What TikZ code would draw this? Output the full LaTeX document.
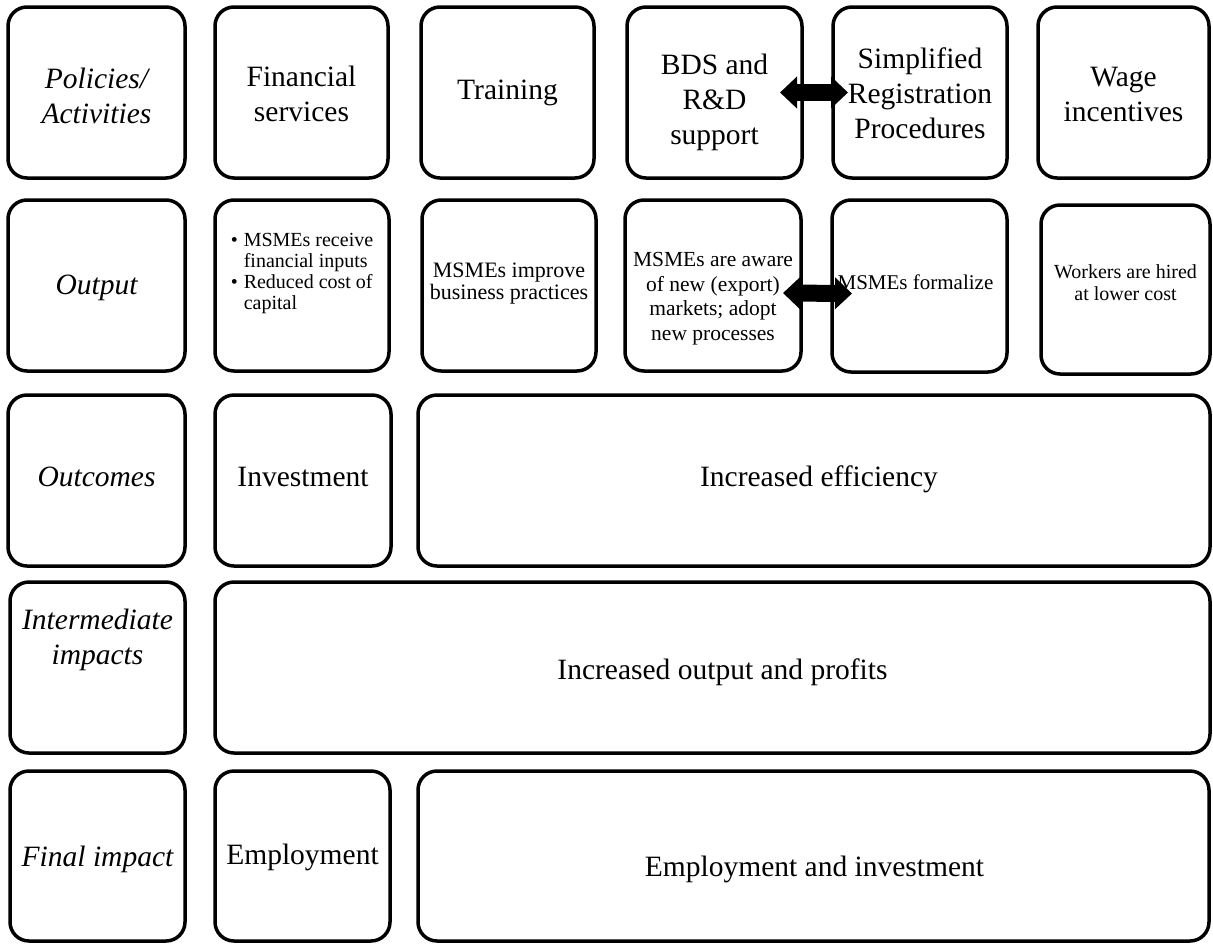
\documentclass[tikz,border=0pt]{standalone}
\usepackage{fontspec}
\setmainfont{Liberation Serif}
\usetikzlibrary{arrows.meta,calc}
\newcommand{\boxat}[5]{\node[box,minimum width={#4pt-#2pt},minimum height={#5pt-#3pt}] (#1) at ({(#2+#4)/2},{(#3+#5)/2}) {};}
\begin{document}
\begin{tikzpicture}[x=1pt,y=-1pt,
  box/.style={draw,line width=3.5pt,rounded corners=19pt,inner sep=0pt,outer sep=0pt},
  big/.style={font=\fontsize{29.5}{35}\selectfont,align=center,inner sep=0pt},
  lab/.style={font=\fontsize{29.5}{35}\selectfont\itshape,align=center,inner sep=0pt},
  small/.style={font=\fontsize{21}{22.5}\selectfont,align=center,inner sep=0pt},
  fat/.style={line width=17pt,{Triangle[width=31pt,length=17pt]}-{Triangle[width=31pt,length=17pt]}}]
\fill[white] (0,0) rectangle (1213,943);
\useasboundingbox (0,0) rectangle (1213,943);
% row 1
\boxat{l1}{8}{7}{185}{178}
\boxat{fin}{215}{7}{388}{178}
\boxat{tr}{421}{7}{594}{178}
\boxat{bds}{627}{7}{802}{178}
\boxat{sim}{833}{7}{1007}{178}
\boxat{wage}{1038}{7}{1209}{178}
% row 2
\boxat{l2}{8}{200}{185}{371}
\boxat{o1}{215}{200}{389}{371}
\boxat{o2}{422}{200}{596}{371}
\boxat{o3}{625}{200}{801}{371}
\boxat{o4}{832}{200}{1007}{372}
\boxat{o5}{1041}{205}{1210}{374}
% row 3
\boxat{l3}{8}{395}{185}{566}
\boxat{inv}{215}{395}{391}{566}
\boxat{eff}{418}{395}{1210}{566}
% row 4
\boxat{l4}{10}{582}{185}{753}
\boxat{out}{215}{582}{1210}{753}
% row 5
\boxat{l5}{10}{771}{185}{941}
\boxat{emp}{215}{771}{390}{941}
\boxat{ei}{418}{771}{1209}{941}
% texts row 1
\node[lab] at ($(l1.center)+(0,3)$) {Policies/\\Activities};
\node[big] at ($(fin.center)+(0,1)$) {Financial\\services};
\node[big] at (tr.center) {Training};
\node[big] at ($(bds.center)+(0,10)$) {BDS and\\R\&D\\support};
\node[big] at ($(sim.center)+(0,1)$) {Simplified\\Registration\\Procedures};
\node[big] at ($(wage.center)+(0,1.5)$) {Wage\\incentives};
% texts row 2
\node[lab] at ($(l2.center)+(0,2)$) {Output};
\node[small,align=left,font=\fontsize{20}{21}\selectfont] at ($(o1.center)+(0,-12)$) {\makebox[13pt][l]{\textbullet}MSMEs receive\\\hspace*{13pt}financial inputs\\\makebox[13pt][l]{\textbullet}Reduced cost of\\\hspace*{13pt}capital};
\node[small,font=\fontsize{22}{22}\selectfont] at ($(o2.center)+(0,-2)$) {MSMEs improve\\business practices};
\node[small,font=\fontsize{21.5}{24.5}\selectfont] at ($(o3.center)+(0,13)$) {MSMEs are aware\\of new (export)\\markets; adopt\\new processes};
\node[small] at ($(o4.center)+(-4,-4)$) {MSMEs formalize};
\node[small,font=\fontsize{20}{22.5}\selectfont] at ($(o5.center)+(0,-7)$) {Workers are hired\\at lower cost};
% texts row 3
\node[lab] at ($(l3.center)+(0,-4)$) {Outcomes};
\node[big] at ($(inv.center)+(0,-4)$) {Investment};
\node[big] at ($(eff.center)+(5,-1)$) {Increased efficiency};
% texts row 4
\node[lab] at ($(l4.center)+(0,-28)$) {Intermediate\\impacts};
\node[big] at ($(out.center)+(10,5)$) {Increased output and profits};
% texts row 5
\node[lab] at ($(l5.center)+(0,3)$) {Final impact};
\node[big] at ($(emp.center)+(0,1)$) {Employment};
\node[big] at ($(ei.center)+(1,13)$) {Employment and investment};
% arrows
\draw[fat] ([xshift=-22pt]bds.east) -- ([xshift=15pt]sim.west);
\draw[fat] ([xshift=-18pt,yshift=-7.5pt]o3.east) -- ([xshift=20pt,yshift=-7.5pt]o4.west);
\end{tikzpicture}
\end{document}
